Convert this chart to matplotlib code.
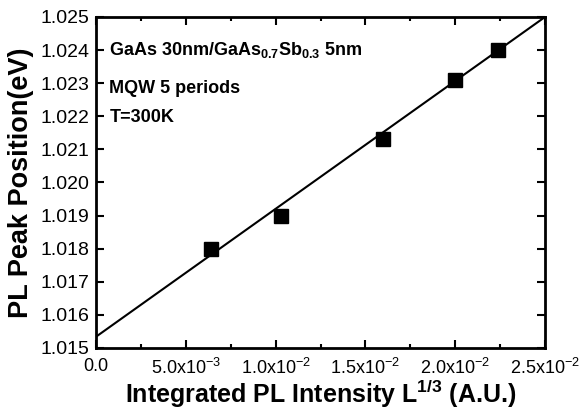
import matplotlib
matplotlib.use('Agg')
import matplotlib.pyplot as plt
import numpy as np
from matplotlib.ticker import MultipleLocator, FixedLocator

plt.rcParams['font.family'] = ['Liberation Sans', 'DejaVu Sans']
plt.rcParams['mathtext.fontset'] = 'custom'
plt.rcParams['mathtext.rm'] = 'Liberation Sans'
plt.rcParams['mathtext.bf'] = 'Liberation Sans:bold'

# Data
intensity = [0.0064, 0.0103, 0.0160, 0.0200, 0.0224]
peak_pos = [1.0180, 1.0190, 1.0213, 1.0231, 1.0240]

# Linear fit line
fit_intercept = 1.01534
fit_slope = 0.3864
fit_x = [0.0, 0.025]

xticks = [0.0, 0.005, 0.010, 0.015, 0.020, 0.025]
xtick_labels = ['0.0', r'5.0x10$^{-3}$', r'1.0x10$^{-2}$', r'1.5x10$^{-2}$',
                r'2.0x10$^{-2}$', r'2.5x10$^{-2}$']

fig = plt.figure(figsize=(5.79, 4.13), dpi=100)
ax = fig.add_axes([96 / 579, 1 - 348 / 413, 449 / 579, 331 / 413])

fy = [fit_intercept + fit_slope * x for x in fit_x]
ax.plot(fit_x, fy, color='black', lw=1.5)
ax.plot(intensity, peak_pos, 's', color='black', markersize=10)

ax.set_xlim(0, 0.025)
ax.set_ylim(1.015, 1.025)
ax.set_xticks(xticks)
ax.set_xticklabels(xtick_labels, fontsize=13)
ax.xaxis.set_minor_locator(MultipleLocator(0.0025))
ax.yaxis.set_major_locator(MultipleLocator(0.001))
ax.yaxis.set_major_formatter(plt.FormatStrFormatter('%.3f'))
ax.tick_params(which='both', direction='in', top=True, right=True, width=1.5)
ax.tick_params(which='major', length=6)
ax.tick_params(which='minor', length=3)
ax.tick_params(axis='x', pad=7, labelsize=13)
ax.tick_params(axis='y', pad=5, labelsize=14)
for s in ax.spines.values():
    s.set_linewidth(2)

ax.set_xlabel(r'Integrated PL Intensity L$^{\mathbf{1/3}}$ (A.U.)', fontsize=18,
              fontweight='bold', labelpad=0)
ax.set_ylabel('PL Peak Position(eV)', fontsize=19.5, fontweight='bold', labelpad=4)

ax.text(0.03, 0.90, r'GaAs 30nm/GaAs$_{\mathbf{0.7}}$Sb$_{\mathbf{0.3}}$ 5nm',
        transform=ax.transAxes, fontsize=13, fontweight='bold', va='center')
ax.text(0.03, 0.785, 'MQW 5 periods', transform=ax.transAxes, fontsize=13,
        fontweight='bold', va='center')
ax.text(0.03, 0.695, 'T=300K', transform=ax.transAxes, fontsize=13,
        fontweight='bold', va='center')

fig.savefig('out.png', dpi=100)
